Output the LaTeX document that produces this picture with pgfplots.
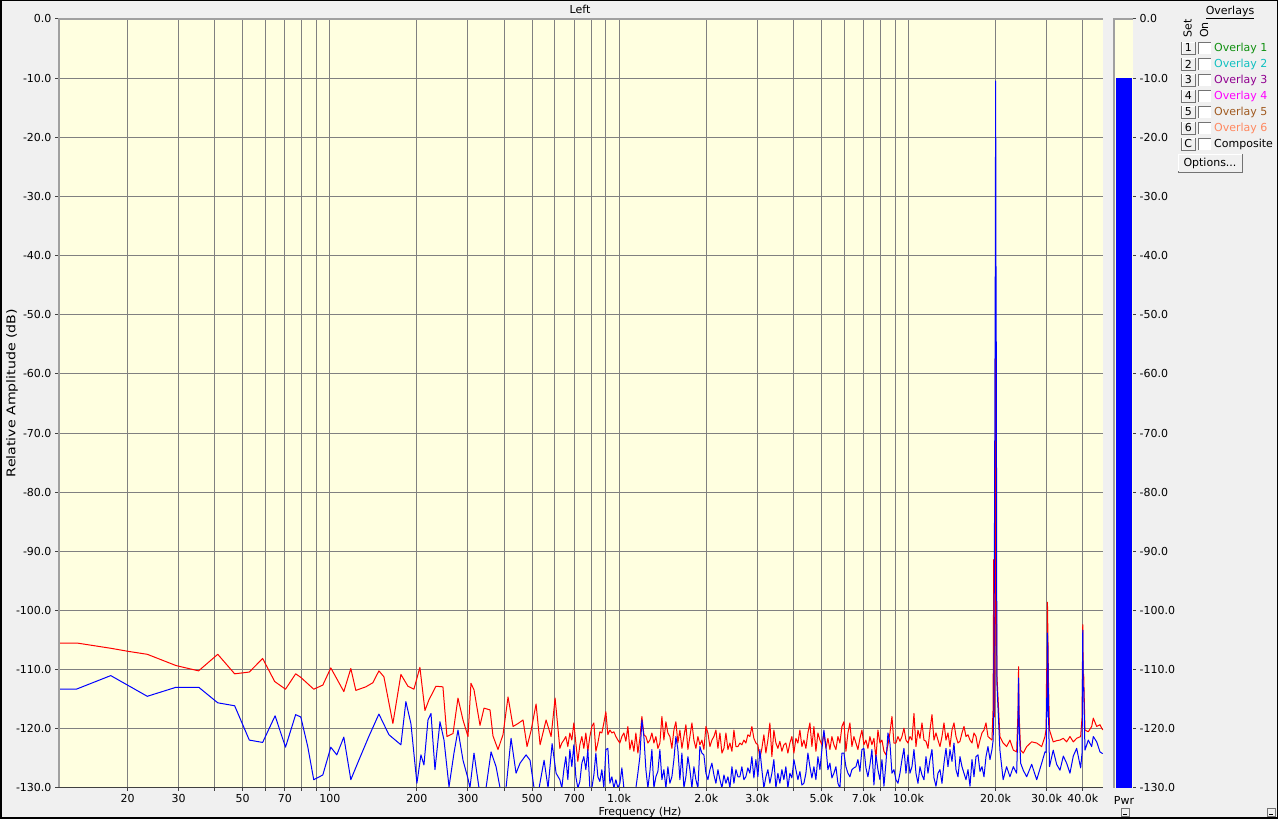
\documentclass[border=0pt]{standalone}
\usepackage{graphicx}
\usepackage{pgfplots}
\pgfplotsset{compat=1.18}
\usepackage{fontspec}
\setmainfont{DejaVu Sans}
\definecolor{bgwin}{HTML}{F0F0F0}
\definecolor{plotbg}{HTML}{FFFFE0}
\definecolor{gridc}{HTML}{808080}
\definecolor{frameg}{HTML}{A0A0A0}
\definecolor{ov1}{HTML}{109010}
\definecolor{ov2}{HTML}{10C0C0}
\definecolor{ov3}{HTML}{900090}
\definecolor{ov4}{HTML}{FF00FF}
\definecolor{ov5}{HTML}{A05A20}
\definecolor{ov6}{HTML}{FF8860}
\newcommand\f{\fontsize{11}{13}\selectfont}
\begin{document}
\begin{tikzpicture}[x=1pt,y=1pt]
\fill[bgwin] (0,0) rectangle (1278,819);
\draw[black, line width=1.5pt] (0.75,0.75) rectangle (1277.25,818.25);
\begin{axis}[
  at={(58pt,31pt)}, anchor=south west,
  scale only axis, width=1045pt, height=769pt,
  xmode=log, xmin=11.5, xmax=47000, ymin=-130, ymax=0,
  axis background/.style={fill=plotbg},
  axis line style={draw=none},
  xtick={20,30,50,70,100,200,300,500,700,1000,2000,3000,5000,7000,10000,20000,30000,40000},
  xticklabels={20,30,50,70,100,200,300,500,700,1.0k,2.0k,3.0k,5.0k,7.0k,10.0k,20.0k,30.0k,40.0k},
  extra x ticks={40,60,80,90,400,600,800,900,4000,6000,8000,9000},
  extra x tick labels={},
  extra x tick style={grid=major},
  ytick={-130,-120,...,0},
  yticklabels={-130.0,-120.0,-110.0,-100.0,-90.0,-80.0,-70.0,-60.0,-50.0,-40.0,-30.0,-20.0,-10.0,0.0},
  grid=major, major grid style={gridc, line width=1pt},
  tick align=outside, xtick pos=bottom, ytick pos=left,
  major tick length=3pt, minor tick length=0pt,
  tick style={black!75, line width=1pt},
  tick label style={font=\f},
  clip=true,
]
\addplot[red, line width=1pt, line join=round] table {
11.5 -105.5
13.4 -105.5
17.6 -106.4
20.1 -106.9
23.4 -107.4
29.4 -109.3
35.2 -110.2
41.0 -107.4
46.9 -110.7
52.7 -110.4
58.6 -108.1
64.5 -112.0
70.3 -113.3
76.2 -110.7
79.4 -111.3
88.0 -113.3
94.6 -112.6
100.8 -109.7
111.8 -113.7
118.2 -109.8
123.0 -113.5
133.2 -112.9
140.9 -112.2
147.8 -110.2
153.8 -111.2
165.2 -119.1
176.1 -110.8
186.2 -112.8
195.3 -113.3
204.8 -109.6
213.2 -116.9
220.1 -115.1
232.7 -112.8
246.0 -112.9
254.0 -121.3
266.5 -120.8
277.3 -114.8
288.6 -118.5
300.3 -121.3
307.5 -112.3
315.0 -113.4
330.4 -119.4
341.2 -116.5
357.9 -116.8
366.4 -121.2
381.3 -123.5
396.8 -121.0
413.0 -114.6
429.8 -119.6
447.2 -119.1
465.4 -118.5
480.4 -123.0
496.0 -120.3
516.2 -115.8
533.0 -122.7
559.0 -118.5
581.8 -121.3
600.6 -114.8
623.7 -123.3
633.7 -122.4
643.9 -121.9
654.2 -121.3
664.7 -123.0
675.4 -120.7
686.2 -121.9
697.2 -119.0
708.4 -122.4
719.8 -125.5
731.4 -122.7
743.1 -121.3
755.0 -123.3
767.1 -120.7
779.5 -123.8
792.0 -121.3
804.7 -119.6
817.6 -119.0
830.7 -123.8
844.0 -122.4
857.6 -120.5
871.3 -120.7
885.3 -119.0
899.5 -117.1
914.0 -121.0
928.6 -120.2
943.6 -120.7
958.7 -120.5
974.1 -121.3
989.7 -121.9
1005.6 -122.4
1021.7 -121.3
1038.1 -120.7
1054.8 -122.1
1071.7 -119.6
1088.9 -123.5
1106.4 -121.9
1124.2 -123.8
1142.2 -120.7
1160.5 -124.1
1179.2 -121.6
1198.1 -117.9
1217.3 -121.0
1236.9 -121.3
1256.7 -122.4
1276.9 -121.9
1297.4 -120.7
1318.2 -122.4
1339.3 -121.3
1360.9 -123.3
1382.7 -122.4
1404.9 -117.9
1427.4 -121.9
1450.4 -118.8
1473.6 -120.7
1497.3 -121.3
1521.3 -123.3
1545.7 -120.2
1570.5 -118.8
1595.7 -122.4
1621.3 -120.2
1647.4 -123.3
1673.8 -121.3
1700.7 -119.3
1728.0 -123.5
1755.7 -121.3
1783.9 -119.0
1812.5 -121.9
1841.6 -123.3
1871.2 -121.3
1901.2 -122.7
1931.7 -121.9
1962.7 -123.5
1994.2 -119.6
2026.2 -120.7
2058.8 -123.0
2091.8 -121.9
2125.4 -121.3
2159.5 -120.2
2194.1 -123.3
2229.3 -120.7
2265.1 -124.1
2301.5 -123.3
2338.4 -120.7
2376.0 -123.5
2414.1 -122.4
2452.8 -123.8
2492.2 -120.2
2532.2 -123.0
2572.9 -123.0
2612.8 -122.4
2654.7 -122.7
2697.3 -121.9
2740.6 -122.4
2784.6 -121.0
2829.3 -121.3
2874.7 -119.6
2920.9 -121.6
2967.8 -122.4
3015.4 -122.7
3063.8 -125.0
3113.0 -123.3
3163.0 -121.0
3213.7 -124.1
3265.3 -121.9
3317.7 -119.0
3371.0 -124.7
3425.1 -120.2
3480.0 -122.4
3535.9 -123.3
3592.6 -122.1
3650.3 -123.8
3708.9 -122.7
3768.4 -122.4
3828.9 -124.1
3890.3 -122.4
3952.8 -121.3
4016.2 -124.1
4080.7 -121.6
4146.2 -122.4
4212.7 -120.2
4280.3 -123.0
4349.0 -121.9
4418.8 -123.3
4489.8 -120.7
4561.8 -119.0
4635.0 -123.0
4709.4 -119.6
4785.0 -123.8
4861.8 -120.7
4939.8 -121.9
5019.1 -122.7
5099.7 -120.7
5181.5 -123.3
5264.7 -121.6
5349.2 -123.5
5435.0 -121.3
5522.2 -122.7
5610.9 -123.5
5700.9 -121.3
5792.4 -122.4
5885.4 -119.6
5979.8 -118.8
6075.8 -123.8
6173.3 -120.7
6272.4 -119.0
6373.1 -123.0
6475.3 -121.3
6579.3 -122.4
6684.9 -123.5
6792.2 -121.6
6901.2 -120.2
7012.0 -122.7
7124.5 -121.9
7238.8 -123.3
7355.0 -121.3
7473.1 -122.7
7593.0 -121.6
7714.9 -125.0
7838.7 -120.2
7964.5 -122.4
8092.3 -121.9
8222.2 -123.8
8354.2 -124.4
8488.3 -122.7
8624.5 -120.7
8763.0 -117.9
8903.6 -122.4
9046.5 -122.4
9191.7 -121.3
9340 -122.1
9490 -121.3
9642 -119.9
9797 -121.9
9954 -122.4
10114 -121.3
10276 -121.9
10441 -117.4
10609 -123.0
10779 -120.2
10952 -121.6
11128 -119.0
11307 -121.9
11488 -122.1
11673 -123.3
11860 -120.2
12050 -117.6
12244 -121.9
12440 -120.7
12640 -121.9
12842 -123.0
13049 -121.3
13258 -119.0
13471 -121.9
13687 -120.7
13907 -123.0
14130 -120.2
14357 -119.0
14587 -121.3
14821 -122.4
15059 -122.1
15301 -120.7
15546 -119.6
15796 -121.3
16049 -121.0
16307 -121.9
16568 -122.4
16834 -120.7
17105 -121.3
17379 -123.3
17658 -121.9
17941 -120.7
18229 -120.2
18521 -119.0
18818 -121.3
19120 -121.6
19427 -121.9
19600 -116.5
19700 -91.4
19800 -118.0
19950 -100.0
20000 -56.0
20050 -91.0
20200 -110.9
20690 -121.3
21230 -122.4
21820 -123.0
22410 -121.9
23020 -123.6
23640 -123.9
23900 -116.8
24000 -109.5
24100 -117.5
24400 -123.6
24910 -124.1
25600 -123.0
26640 -122.2
27730 -122.4
28850 -123.0
29610 -121.3
29900 -120.0
30000 -109.8
30100 -115.0
30200 -98.6
30300 -103.4
30450 -112.0
30700 -120.2
31620 -122.2
32500 -122.0
33370 -121.9
34270 -121.6
35180 -122.2
36130 -121.3
37100 -122.2
38110 -121.6
39340 -121.3
39800 -118.0
40000 -102.4
40150 -111.7
40300 -110.8
40710 -120.2
41790 -120.5
42940 -119.6
43500 -118.2
44690 -119.6
45880 -119.3
46880 -120.2
};
\addplot[blue, line width=1pt, line join=round] table {
11.5 -113.3
13.3 -113.3
17.5 -111.0
23.4 -114.5
29.3 -113.0
35.3 -113.0
41.0 -115.6
46.9 -116.1
52.7 -121.9
58.6 -122.3
64.7 -117.8
70.3 -123.1
76.2 -117.6
79.4 -118.0
83.9 -123.0
88.0 -128.6
94.6 -127.8
100.8 -123.1
105.7 -124.4
111.8 -121.4
118.2 -128.6
126.0 -125.3
136.4 -121.3
147.8 -117.5
160.1 -121.0
176.1 -122.7
183.2 -115.4
190.7 -119.1
200.0 -129.2
206.5 -124.4
211.5 -126.1
218.4 -118.5
223.7 -117.4
230.9 -126.9
240.3 -118.8
248.1 -121.9
258.2 -129.8
268.6 -124.1
277.3 -120.2
288.6 -125.3
300.3 -128.4
305.0 -130
315.0 -124.1
327.8 -130
346.7 -130
360.8 -123.9
375.5 -126.4
387.6 -130
406.4 -130
423.0 -121.6
440.2 -127.5
454.5 -125.8
476.7 -124.4
492.0 -125.3
508.0 -130
528.7 -130
550.2 -125.3
567.9 -130
586.5 -122.5
605.4 -127.5
623.7 -128.6
633.7 -130
643.9 -126.9
654.2 -124.7
664.7 -128.6
675.4 -123.5
686.2 -126.4
697.2 -122.7
708.4 -128.1
719.8 -130
731.4 -128.9
743.1 -125.8
755.0 -124.7
767.1 -126.9
779.5 -123.5
792.0 -130
804.7 -130
817.6 -127.8
830.7 -124.1
844.0 -128.1
857.6 -128.9
871.3 -126.9
885.3 -130
899.5 -123.5
914.0 -123.3
928.6 -129.2
943.6 -128.1
958.7 -130
974.1 -128.6
989.7 -130
1005.6 -129.2
1021.7 -126.6
1038.1 -130
1054.8 -130
1142.2 -130
1160.5 -127.5
1179.2 -124.7
1198.1 -118.5
1217.3 -121.3
1236.9 -126.9
1256.7 -130
1276.9 -127.2
1297.4 -123.5
1318.2 -130
1339.3 -128.1
1360.9 -127.2
1382.7 -123.5
1404.9 -128.6
1427.4 -126.9
1450.4 -130
1473.6 -126.4
1497.3 -129.2
1521.3 -128.1
1545.7 -125.2
1570.5 -121.3
1595.7 -123.5
1621.3 -128.6
1647.4 -124.1
1673.8 -130
1700.7 -128.1
1728.0 -124.7
1755.7 -126.9
1783.9 -130
1812.5 -126.4
1841.6 -128.6
1871.2 -130
1901.2 -123.0
1931.7 -124.1
1962.7 -124.4
1994.2 -127.5
2026.2 -128.6
2058.8 -126.9
2091.8 -125.8
2125.4 -127.8
2159.5 -129.2
2194.1 -126.9
2229.3 -128.6
2265.1 -130
2301.5 -127.8
2338.4 -129.2
2376.0 -128.1
2414.1 -130
2452.8 -126.4
2492.2 -129.2
2532.2 -126.9
2572.9 -128.1
2612.8 -128.1
2654.7 -126.4
2697.3 -128.6
2740.6 -128.1
2784.6 -126.6
2829.3 -127.5
2874.7 -124.7
2920.9 -128.3
2967.8 -125.2
3015.4 -128.1
3063.8 -123.5
3113.0 -126.9
3163.0 -130
3213.7 -128.1
3265.3 -126.9
3317.7 -129.2
3371.0 -127.5
3425.1 -125.2
3480.0 -130
3535.9 -127.5
3592.6 -129.2
3650.3 -126.9
3708.9 -128.6
3768.4 -126.4
3828.9 -130
3890.3 -127.5
3952.8 -128.3
4016.2 -125.2
4080.7 -126.9
4146.2 -128.6
4212.7 -127.2
4280.3 -129.5
4349.0 -129.2
4418.8 -127.5
4489.8 -124.1
4561.8 -126.4
4635.0 -128.3
4709.4 -126.4
4785.0 -128.6
4861.8 -124.7
4939.8 -126.9
5019.1 -123.5
5099.7 -120.2
5181.5 -123.0
5264.7 -126.9
5349.2 -125.8
5435.0 -128.3
5522.2 -127.5
5610.9 -126.4
5700.9 -129.2
5792.4 -130
5885.4 -124.1
5979.8 -124.1
6075.8 -126.4
6173.3 -127.5
6272.4 -128.1
6373.1 -126.9
6475.3 -126.6
6579.3 -126.4
6684.9 -125.2
6792.2 -127.2
6901.2 -123.5
7012.0 -123.3
7124.5 -126.6
7238.8 -128.1
7355.0 -126.1
7473.1 -123.5
7593.0 -129.5
7714.9 -124.4
7838.7 -126.9
7964.5 -128.6
8092.3 -125.2
8222.2 -129.7
8354.2 -125.8
8488.3 -120.7
8624.5 -122.4
8763.0 -127.5
8903.6 -126.9
9046.5 -128.6
9191.7 -129.2
9340 -127.5
9490 -125.2
9642 -123.3
9797 -127.5
9954 -124.4
10114 -127.5
10276 -126.4
10441 -123.5
10609 -127.5
10779 -129.2
10952 -126.4
11128 -127.8
11307 -128.6
11488 -124.7
11673 -127.5
11860 -125.2
12050 -123.5
12244 -128.3
12440 -129.7
12640 -127.5
12842 -126.9
13049 -129.2
13258 -125.8
13471 -123.3
13687 -126.4
13907 -123.5
14130 -125.5
14357 -122.4
14587 -126.9
14821 -128.1
15059 -124.7
15301 -126.4
15546 -127.5
15796 -128.6
16049 -126.9
16307 -129.7
16568 -125.2
16834 -128.1
17105 -124.7
17379 -124.4
17658 -127.2
17941 -126.4
18229 -128.1
18521 -124.7
18818 -123.0
19120 -125.2
19427 -123.5
19600 -122.0
19700 -118.0
19800 -92.0
19950 -40.3
20000 -10.5
20050 -40.3
20100 -56.1
20200 -112.3
20690 -123.6
21230 -128.6
21820 -126.4
22410 -128.1
23020 -126.4
23640 -127.5
23900 -119.3
24000 -111.4
24100 -119.0
24400 -125.8
24910 -127.0
25600 -128.1
26640 -126.0
27730 -128.6
28850 -125.8
29610 -123.9
29900 -124.0
30000 -114.8
30100 -118.0
30200 -103.8
30300 -106.7
30450 -116.8
30700 -126.4
31620 -123.6
32500 -126.0
33370 -127.0
34270 -124.6
35180 -125.8
36130 -127.5
37100 -124.6
38110 -123.3
39340 -126.6
39800 -124.0
40000 -103.3
40150 -113.6
40300 -113.0
40710 -123.6
41790 -121.9
42940 -123.0
43500 -121.3
44690 -122.2
45880 -123.9
46880 -124.2
};
\draw[frameg, line width=3pt] (rel axis cs:0,0) -- (rel axis cs:0,1) -- (rel axis cs:1,1);
\draw[black!75, line width=1pt] (rel axis cs:0,0) -- (rel axis cs:1,0);
\end{axis}
\begin{axis}[
  at={(1113pt,31pt)}, anchor=south west,
  scale only axis, width=20pt, height=769pt,
  xmin=0, xmax=1, ymin=-130, ymax=0,
  axis background/.style={fill=plotbg},
  axis line style={draw=none},
  xtick=\empty,
  ytick={-130,-120,...,0},
  yticklabels={-130.0,-120.0,-110.0,-100.0,-90.0,-80.0,-70.0,-60.0,-50.0,-40.0,-30.0,-20.0,-10.0,0.0},
  ytick pos=right, yticklabel pos=right, tick align=outside,
  major tick length=3pt,
  tick style={black!75, line width=1pt},
  tick label style={font=\f},
  yticklabel style={anchor=west},
]
\addplot[fill=blue, draw=none] coordinates {(0.15,-130) (0.15,-10) (0.93,-10) (0.93,-130)} -- cycle;
\draw[frameg, line width=3pt] (rel axis cs:0,0) -- (rel axis cs:0,1) -- (rel axis cs:1,1);
\end{axis}
\node[font=\f] at (580,810) {Left};
\node[font=\f] at (640,7) {Frequency (Hz)};
\node[rotate=90] at (12,426) {\scalebox{1.18}[1]{\fontsize{12}{14}\selectfont Relative Amplitude (dB)}};
\node[font=\f] at (1124,19) {Pwr};
\node[font=\f] at (1230,806.5) {\underline{Overlays}};
\node[font=\f, rotate=90] at (1187.5,790.5) {Set};
\node[font=\f, rotate=90] at (1204,789) {On};
\foreach \lab/\txt/\col [count=\i from 0] in {1/Overlay 1/ov1, 2/Overlay 2/ov2, 3/Overlay 3/ov3, 4/Overlay 4/ov4, 5/Overlay 5/ov5, 6/Overlay 6/ov6, C/Composite/black} {
  \pgfmathsetmacro\yy{771-16*\i}
  \draw[black!55, fill=bgwin] (1181.5,\yy-6.5) rectangle (1195,\yy+6);
  \draw[white, line width=1pt] (1182,\yy-6) -- (1182,\yy+5.5) -- (1194.5,\yy+5.5);
  \node[font=\f] at (1188.3,\yy) {\lab};
  \fill[white] (1198.5,\yy-6) rectangle (1210.5,\yy+6);
  \draw[black!55] (1198.5,\yy-6) -- (1198.5,\yy+6) -- (1210.5,\yy+6);
  \node[font=\f, text=\col, anchor=west, inner sep=0pt] at (1214,\yy) {\txt};
}
\draw[black!55, fill=bgwin] (1178,647) rectangle (1242,665);
\draw[white, line width=1pt] (1178.5,647.5) -- (1178.5,664.5) -- (1241.5,664.5);
\node[font=\f] at (1210,656) {Options...};
\draw[black!55, fill=bgwin] (1120.7,2.3) rectangle (1129.3,11);
\draw[black] (1123,5) -- (1127,5);
\draw[black!55, fill=bgwin] (1266.7,2.3) rectangle (1275.3,11);
\draw[black] (1269,5) -- (1273,5);
\end{tikzpicture}
\end{document}
